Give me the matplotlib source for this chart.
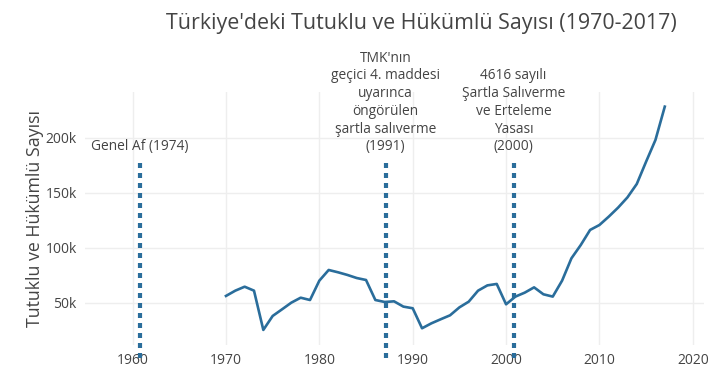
import matplotlib
matplotlib.use("Agg")
import matplotlib.pyplot as plt

years = list(range(1970, 2018))
prisoners = [56.4, 61.2, 64.8, 61.2, 25.5, 38.2, 44.2, 50.3, 54.8, 52.7,
             70.3, 80.0, 77.9, 75.5, 72.7, 70.9, 52.7, 50.9, 51.5, 46.7,
             45.2, 27.0, 31.5, 35.2, 38.8, 46.0, 51.2, 61.2, 66.0, 67.3,
             48.8, 55.8, 59.4, 64.2, 57.9, 55.8, 70.3, 90.6, 102.7, 116.4,
             120.9, 128.5, 136.7, 146.0, 158.2, 178.5, 198.2, 228.5]
prisoners = [v * 1000 for v in prisoners]

event_x = [1960.8, 1987.1, 2000.8]
event_top = 180000
event_labels = ["Genel Af (1974)",
                "TMK'nın\ngeçici 4. maddesi\nuyarınca\nöngörülen\nşartla salıverme\n(1991)",
                "4616 sayılı\nŞartla Salıverme\nve Erteleme\nYasası\n(2000)"]

xticks = [1960, 1970, 1980, 1990, 2000, 2010, 2020]
yticks = [50000, 100000, 150000, 200000]
ytick_labels = ["50k", "100k", "150k", "200k"]

plt.rcParams['font.family'] = ['Open Sans', 'DejaVu Sans']
fig = plt.figure(figsize=(7.14, 3.71), dpi=100)
ax = fig.add_axes([85/714, 1 - 345/371, (704-85)/714, (345-92)/371])

color = "#2a6d9b"
ax.plot(years, prisoners, color=color, lw=1.9, solid_joinstyle='round', zorder=3)

for x, lab in zip(event_x, event_labels):
    ax.plot([x, x], [0, event_top], color=color, lw=3.0,
            linestyle=(0, (1.2, 1.2)), dash_capstyle='butt', clip_on=False, zorder=4)
    ax.annotate(lab, xy=(x, event_top), xytext=(0, 4), textcoords='offset points',
                ha='center', va='bottom', fontsize=9.9, color='#444444',
                linespacing=1.25, annotation_clip=False)

ax.set_xlim(1954.9, 2021.2)
ax.set_ylim(11800, 241800)
ax.set_xticks(xticks)
ax.set_yticks(yticks)
ax.set_yticklabels(ytick_labels)
ax.tick_params(length=0, labelsize=10, labelcolor='#444444', pad=6)
ax.grid(True, color='#eeeeee', lw=1)
ax.set_axisbelow(True)
for s in ax.spines.values():
    s.set_visible(False)

ax.set_ylabel("Tutuklu ve Hükümlü Sayısı", fontsize=12.8, color='#444444', labelpad=1)
fig.text(421/714, 1 - 23/371, "Türkiye'deki Tutuklu ve Hükümlü Sayısı (1970-2017)",
         ha='center', va='center', fontsize=15.4, color='#444444')

fig.savefig("out.png", dpi=100)
